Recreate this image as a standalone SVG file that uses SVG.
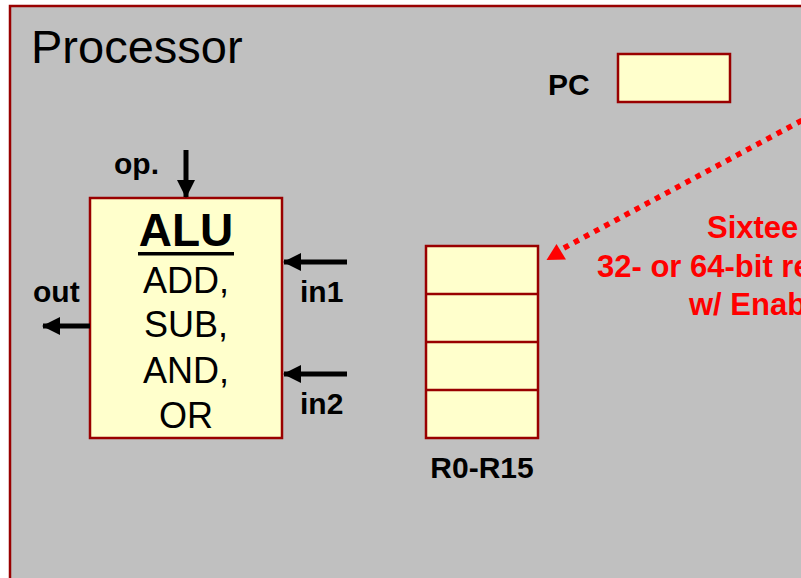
<svg xmlns="http://www.w3.org/2000/svg" width="801" height="578" viewBox="0 0 801 578">
<style>
.box{fill:#FFFFCC;stroke:#990000;stroke-width:2.5}
.lbl{font-family:"Liberation Sans",Arial,sans-serif;font-weight:bold;font-size:30px;fill:#000}
.op{font-family:"Liberation Sans",Arial,sans-serif;font-size:36px;fill:#000;text-anchor:middle}
.red{font-family:"Liberation Sans",Arial,sans-serif;font-weight:bold;font-size:31px;fill:#FF0000}
.wire{stroke:#000;stroke-width:5;fill:none}
</style>
<defs>
<marker id="ah" markerUnits="userSpaceOnUse" markerWidth="18" markerHeight="18" viewBox="0 0 18 18" refX="17" refY="9" orient="auto">
<path d="M0,0 L18,9 L0,18 Z" fill="#000"/>
</marker>
</defs>
<rect x="0" y="0" width="801" height="578" fill="#FFFFFF"/>
<g id="processor">
<rect x="10" y="6" width="820" height="600" fill="#C0C0C0" stroke="#990000" stroke-width="2.5"/>
<text x="31" y="63" font-family="Liberation Sans, Arial, sans-serif" font-size="47" fill="#000">Processor</text>
</g>
<g id="pc">
<text class="lbl" x="548" y="95">PC</text>
<rect class="box" x="618" y="54" width="112" height="48"/>
</g>
<g id="alu">
<rect class="box" x="90" y="198" width="192" height="240"/>
<text x="186" y="246" text-anchor="middle" font-family="Liberation Sans, Arial, sans-serif" font-weight="bold" font-size="46" fill="#000">ALU</text>
<rect x="138" y="252" width="96" height="3.5" fill="#000"/>
<text class="op" x="186" y="293">ADD,</text>
<text class="op" x="186" y="337">SUB,</text>
<text class="op" x="186" y="383">AND,</text>
<text class="op" x="186" y="428">OR</text>
</g>
<g id="registers">
<rect class="box" x="426" y="246" width="112" height="192"/>
<line x1="426" y1="294" x2="538" y2="294" stroke="#990000" stroke-width="2.5"/>
<line x1="426" y1="342" x2="538" y2="342" stroke="#990000" stroke-width="2.5"/>
<line x1="426" y1="390" x2="538" y2="390" stroke="#990000" stroke-width="2.5"/>
<text class="lbl" x="482" y="478" text-anchor="middle">R0-R15</text>
</g>
<g id="labels">
<text class="lbl" x="114" y="174">op.</text>
<text class="lbl" x="33" y="302">out</text>
<text class="lbl" x="300" y="302">in1</text>
<text class="lbl" x="300" y="414">in2</text>
</g>
<g id="note">
<text class="red" x="707" y="238">Sixtee</text>
<text class="red" x="597" y="277">32- or 64-bit re</text>
<text class="red" x="689" y="315">w/ Enab</text>
</g>
<g id="connectors">
<line class="wire" x1="186" y1="150" x2="186" y2="197" marker-end="url(#ah)"/>
<line class="wire" x1="347" y1="262" x2="284" y2="262" marker-end="url(#ah)"/>
<line class="wire" x1="347" y1="374" x2="284" y2="374" marker-end="url(#ah)"/>
<line class="wire" x1="90" y1="326" x2="43" y2="326" marker-end="url(#ah)"/>
<line x1="812" y1="115" x2="562" y2="249" stroke="#FF0000" stroke-width="5.5" stroke-dasharray="5.5 6"/>
<polygon points="546.5,260 566,259.5 556.5,244" fill="#FF0000"/>
</g>
</svg>
